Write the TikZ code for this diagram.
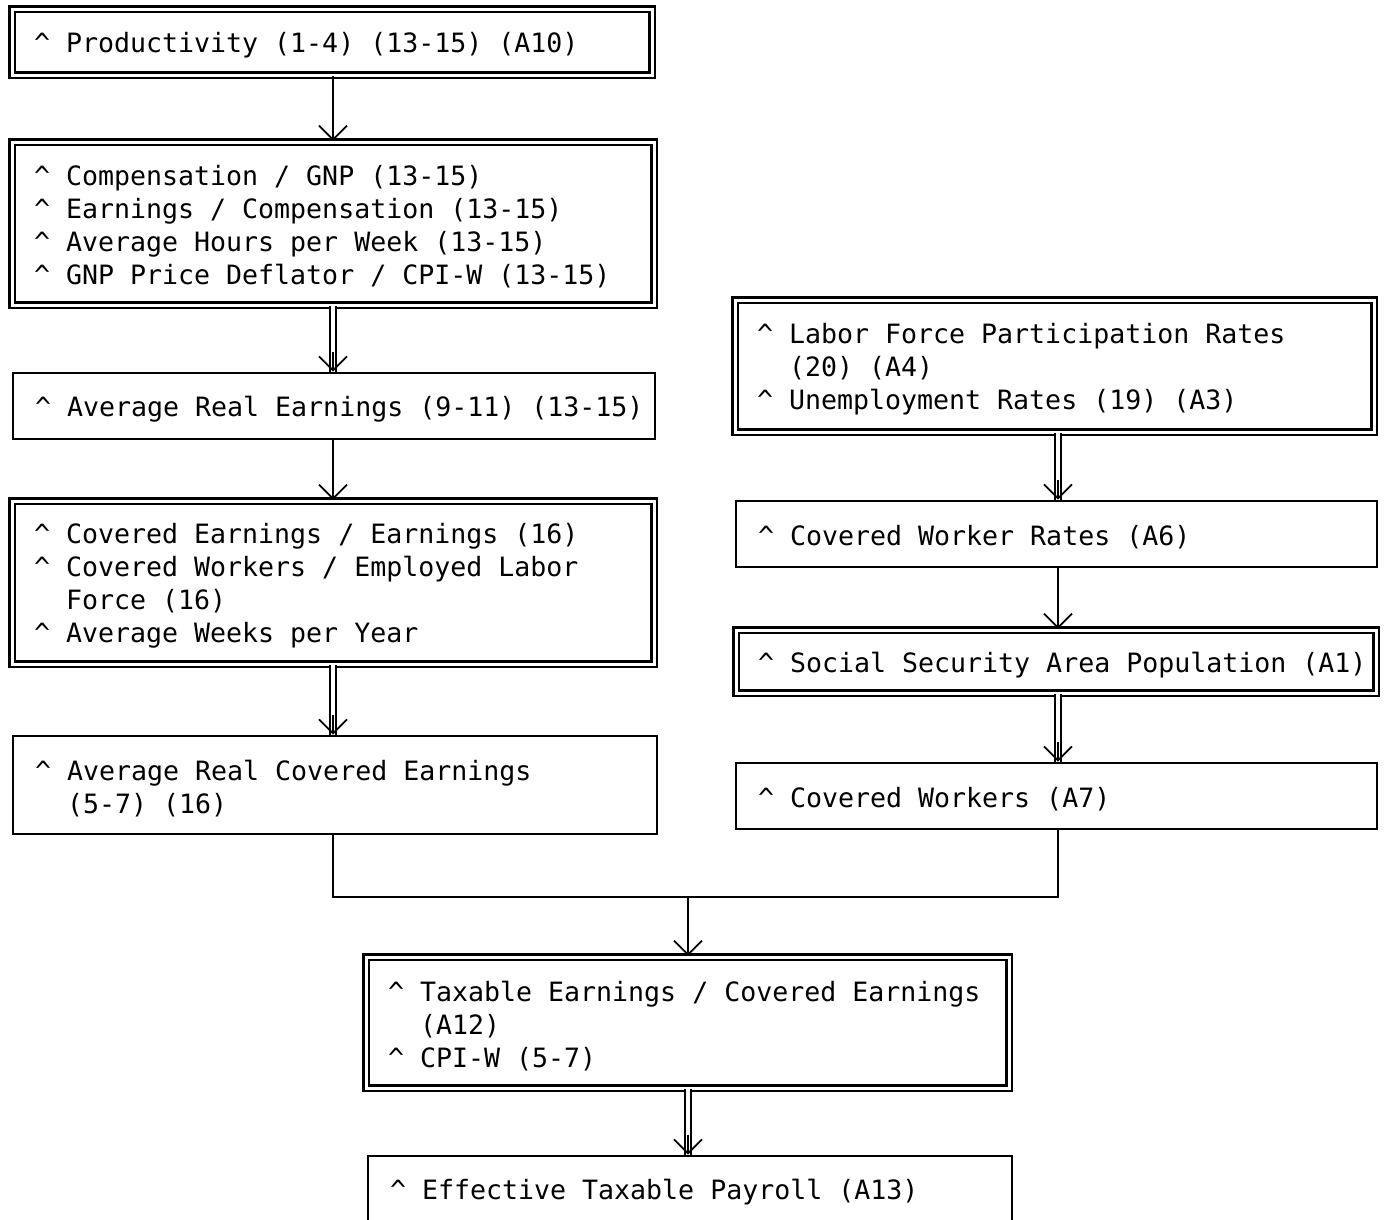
\documentclass[tikz,border=0pt]{standalone}
\usepackage{fontspec}
\setmonofont{DejaVu Sans Mono}
\usetikzlibrary{arrows.meta}
\newcommand\ind{\hspace*{1.204em}}
\newcommand\cc{\textasciicircum{} }
\newcommand\boxsetup{\spaceskip=0.602em\relax\xspaceskip=0.602em\relax\rule{0pt}{27pt}}
\begin{document}
\begin{tikzpicture}[x=1pt,y=-1pt,
  basebox/.style={rectangle, inner xsep=22pt, inner ysep=0pt, align=left, anchor=center,
    font=\ttfamily\fontsize{26.6}{33}\selectfont,
    execute at begin node={\boxsetup}},
  sbox/.style={basebox, draw, line width=2.6pt},
  dbox/.style={basebox, draw, double, double distance=3pt, line width=2.4pt},
  conn/.style={line width=1.8pt, -{Straight Barb[length=14pt,width=28pt,line width=1.8pt]}},
  dconn/.style={line width=1.8pt, double, double distance=3.5pt},
  tipseg/.style={line width=1.8pt, -{Straight Barb[length=14pt,width=28pt,line width=1.8pt]}},
  plain/.style={line width=1.8pt}]
\useasboundingbox (0,0) rectangle (1384,1219);
\fill[white] (0,0) rectangle (1384,1219);

\coordinate (cL) at (333,0);
\coordinate (cR) at (1058,0);
\coordinate (cM) at (688,0);
\coordinate (j) at (688,897);

\node[dbox, text width=596pt, minimum height=66pt] (prod) at (332,42)
  {\cc Productivity (1-4) (13-15) (A10)};
\node[dbox, text width=598pt, minimum height=163pt] (comp) at (333,223.5)
  {\cc Compensation / GNP (13-15)\\
   \cc Earnings / Compensation (13-15)\\
   \cc Average Hours per Week (13-15)\\
   \cc GNP Price Deflator / CPI-W (13-15)};
\node[sbox, text width=598pt, minimum height=66pt] (are) at (334,406)
  {\mbox{\cc Average Real Earnings (9-11) (13-15)}};
\node[dbox, text width=598pt, minimum height=163pt] (cov) at (333,582.5)
  {\cc Covered Earnings / Earnings (16)\\
   \cc Covered Workers / Employed Labor\\
   \ind Force (16)\\
   \cc Average Weeks per Year};
\node[sbox, text width=600pt, minimum height=98pt] (arce) at (335,785)
  {\cc Average Real Covered Earnings\\
   \ind (5-7) (16)};

\node[dbox, text width=595pt, minimum height=132pt] (lab) at (1054.5,366)
  {\cc Labor Force Participation Rates\\
   \ind (20) (A4)\\
   \cc Unemployment Rates (19) (A3)};
\node[sbox, text width=597pt, minimum height=66pt] (cwr) at (1056.5,534)
  {\cc Covered Worker Rates (A6)};
\node[dbox, text width=596pt, minimum height=63pt] (ssap) at (1056,661.5)
  {\mbox{\cc Social Security Area Population (A1)}};
\node[sbox, text width=597pt, minimum height=66pt] (cw) at (1056.5,796)
  {\cc Covered Workers (A7)};

\node[dbox, text width=599pt, minimum height=131pt] (tax) at (687.5,1022.5)
  {\cc Taxable Earnings / Covered Earnings\\
   \ind (A12)\\
   \cc CPI-W (5-7)};
\node[sbox, text width=600pt, minimum height=66pt] (etp) at (690,1189)
  {\cc Effective Taxable Payroll (A13)};

% left column
\draw[conn] (prod.south -| cL) -- (comp.north -| cL);
\draw[dconn] (comp.south -| cL) -- (are.north -| cL);
\draw[tipseg] ([yshift=20pt]are.north -| cL) -- (are.north -| cL);
\draw[conn] (are.south -| cL) -- (cov.north -| cL);
\draw[dconn] (cov.south -| cL) -- (arce.north -| cL);
\draw[tipseg] ([yshift=20pt]arce.north -| cL) -- (arce.north -| cL);

% right column
\draw[dconn] (lab.south -| cR) -- (cwr.north -| cR);
\draw[tipseg] ([yshift=20pt]cwr.north -| cR) -- (cwr.north -| cR);
\draw[conn] (cwr.south -| cR) -- (ssap.north -| cR);
\draw[dconn] (ssap.south -| cR) -- (cw.north -| cR);
\draw[tipseg] ([yshift=20pt]cw.north -| cR) -- (cw.north -| cR);

% merge
\draw[plain] (arce.south -| cL) -- (cL |- j) -- (cR |- j) -- (cw.south -| cR);
\draw[conn] (j) -- (tax.north -| cM);
\draw[dconn] (tax.south -| cM) -- (etp.north -| cM);
\draw[tipseg] ([yshift=20pt]etp.north -| cM) -- (etp.north -| cM);
\end{tikzpicture}
\end{document}
